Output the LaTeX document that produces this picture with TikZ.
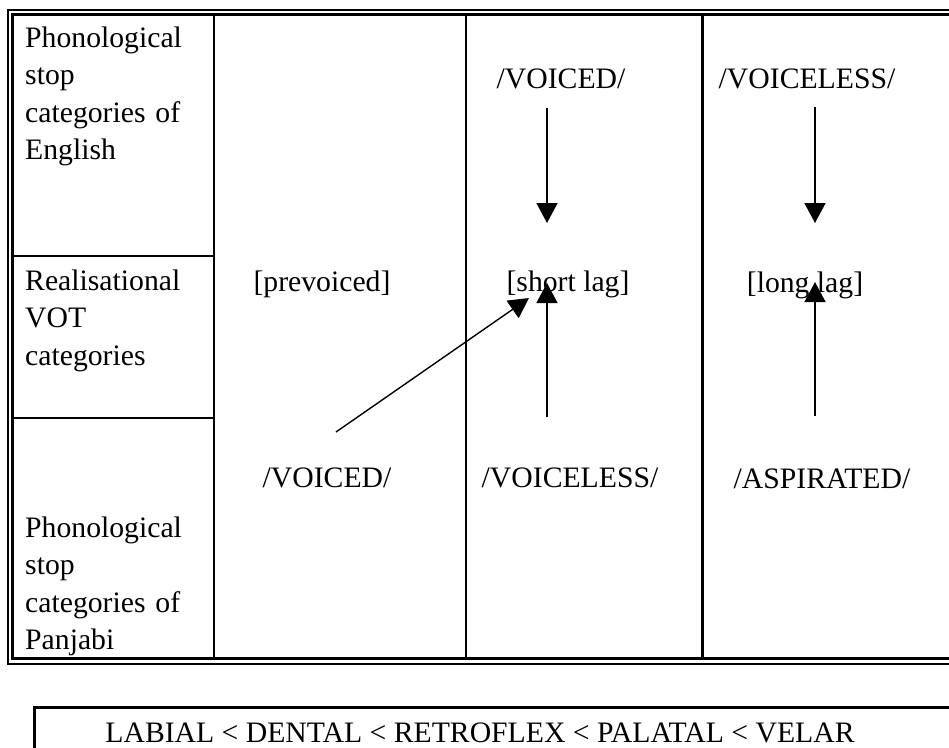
\documentclass[tikz,border=0pt]{standalone}
\usepackage{fontspec}
\setmainfont{Liberation Serif}
\usetikzlibrary{arrows.meta}

\tikzset{
  txt/.style={inner sep=0pt, font=\fontsize{29.7}{37.5}\selectfont},
  hdr/.style={txt, anchor=base west, text width=180pt, align=left},
  lbl/.style={txt, anchor=base},
  rule/.style={line width=2.7pt},
  arr/.style={line width=1.4pt, -{Triangle[length=20pt,width=21pt]}}
}

\begin{document}
\begin{tikzpicture}[x=1pt,y=-1pt]
    \useasboundingbox (0,0) rectangle (949,747);
    \clip (0,0) rectangle (949,747);
    % Double frame
    \draw [line width=2.3pt] (970,10) -- (8,10) -- (8,663.7) -- (970,663.7);
    \draw [line width=3pt] (970,14.5) -- (12.5,14.5) -- (12.5,658.7) -- (970,658.7);
    % Columns and rows
    \draw [rule] (214,14.5) -- (214,658.7);
    \draw [rule] (466,14.5) -- (466,658.7);
    \draw [rule] (702.5,14.5) -- (702.5,658.7);
    \draw [rule] (12.5,256) -- (214,256);
    \draw [rule] (12.5,418) -- (214,418);
    % Row headings
    \node [hdr] (engl) at (25,47) {Phonological\\stop\\categories of\\English};
    \node [hdr] (real) at (25,290) {Realisational\\VOT\\categories};
    \node [hdr] (panj) at (25,537) {Phonological\\stop\\categories of\\Panjabi};
    % English categories
    \node [lbl] (enVoiced) at (561,88) {/VOICED/};
    \node [lbl] (enVoiceless) at (807,88) {/VOICELESS/};
    % VOT categories
    \node [lbl] (prevoiced) at (322,291) {[prevoiced]};
    \node [lbl] (shortLag) at (568,291) {[short lag]};
    \node [lbl] (longLag) at (805,292) {[long lag]};
    % Panjabi categories
    \node [lbl] (pjVoiced) at (327,487) {/VOICED/};
    \node [lbl] (pjVoiceless) at (570,487) {/VOICELESS/};
    \node [lbl] (pjAspirated) at (822,488) {/ASPIRATED/};
    % Arrows
    \coordinate (voicedTop) at (547,108);  \coordinate (shortTop) at (547,223);
    \coordinate (voicelessTop) at (815,107); \coordinate (longTop) at (815,223);
    \coordinate (voicelessBot) at (547,417); \coordinate (shortBot) at (547,283);
    \coordinate (aspBot) at (815,416); \coordinate (longBot) at (815,282);
    \coordinate (voicedBot) at (336,432); \coordinate (shortSide) at (529,298);
    \draw [arr] (voicedTop) -- (shortTop);
    \draw [arr] (voicelessTop) -- (longTop);
    \draw [arr] (voicelessBot) -- (shortBot);
    \draw [arr] (aspBot) -- (longBot);
    \draw [arr] (voicedBot) -- (shortSide);
    % Place hierarchy
    \draw [line width=3pt] (970,707) -- (34,707) -- (34,800);
    \node [lbl] (places) at (480,742) {LABIAL < DENTAL < RETROFLEX < PALATAL < VELAR};
\end{tikzpicture}
\end{document}
